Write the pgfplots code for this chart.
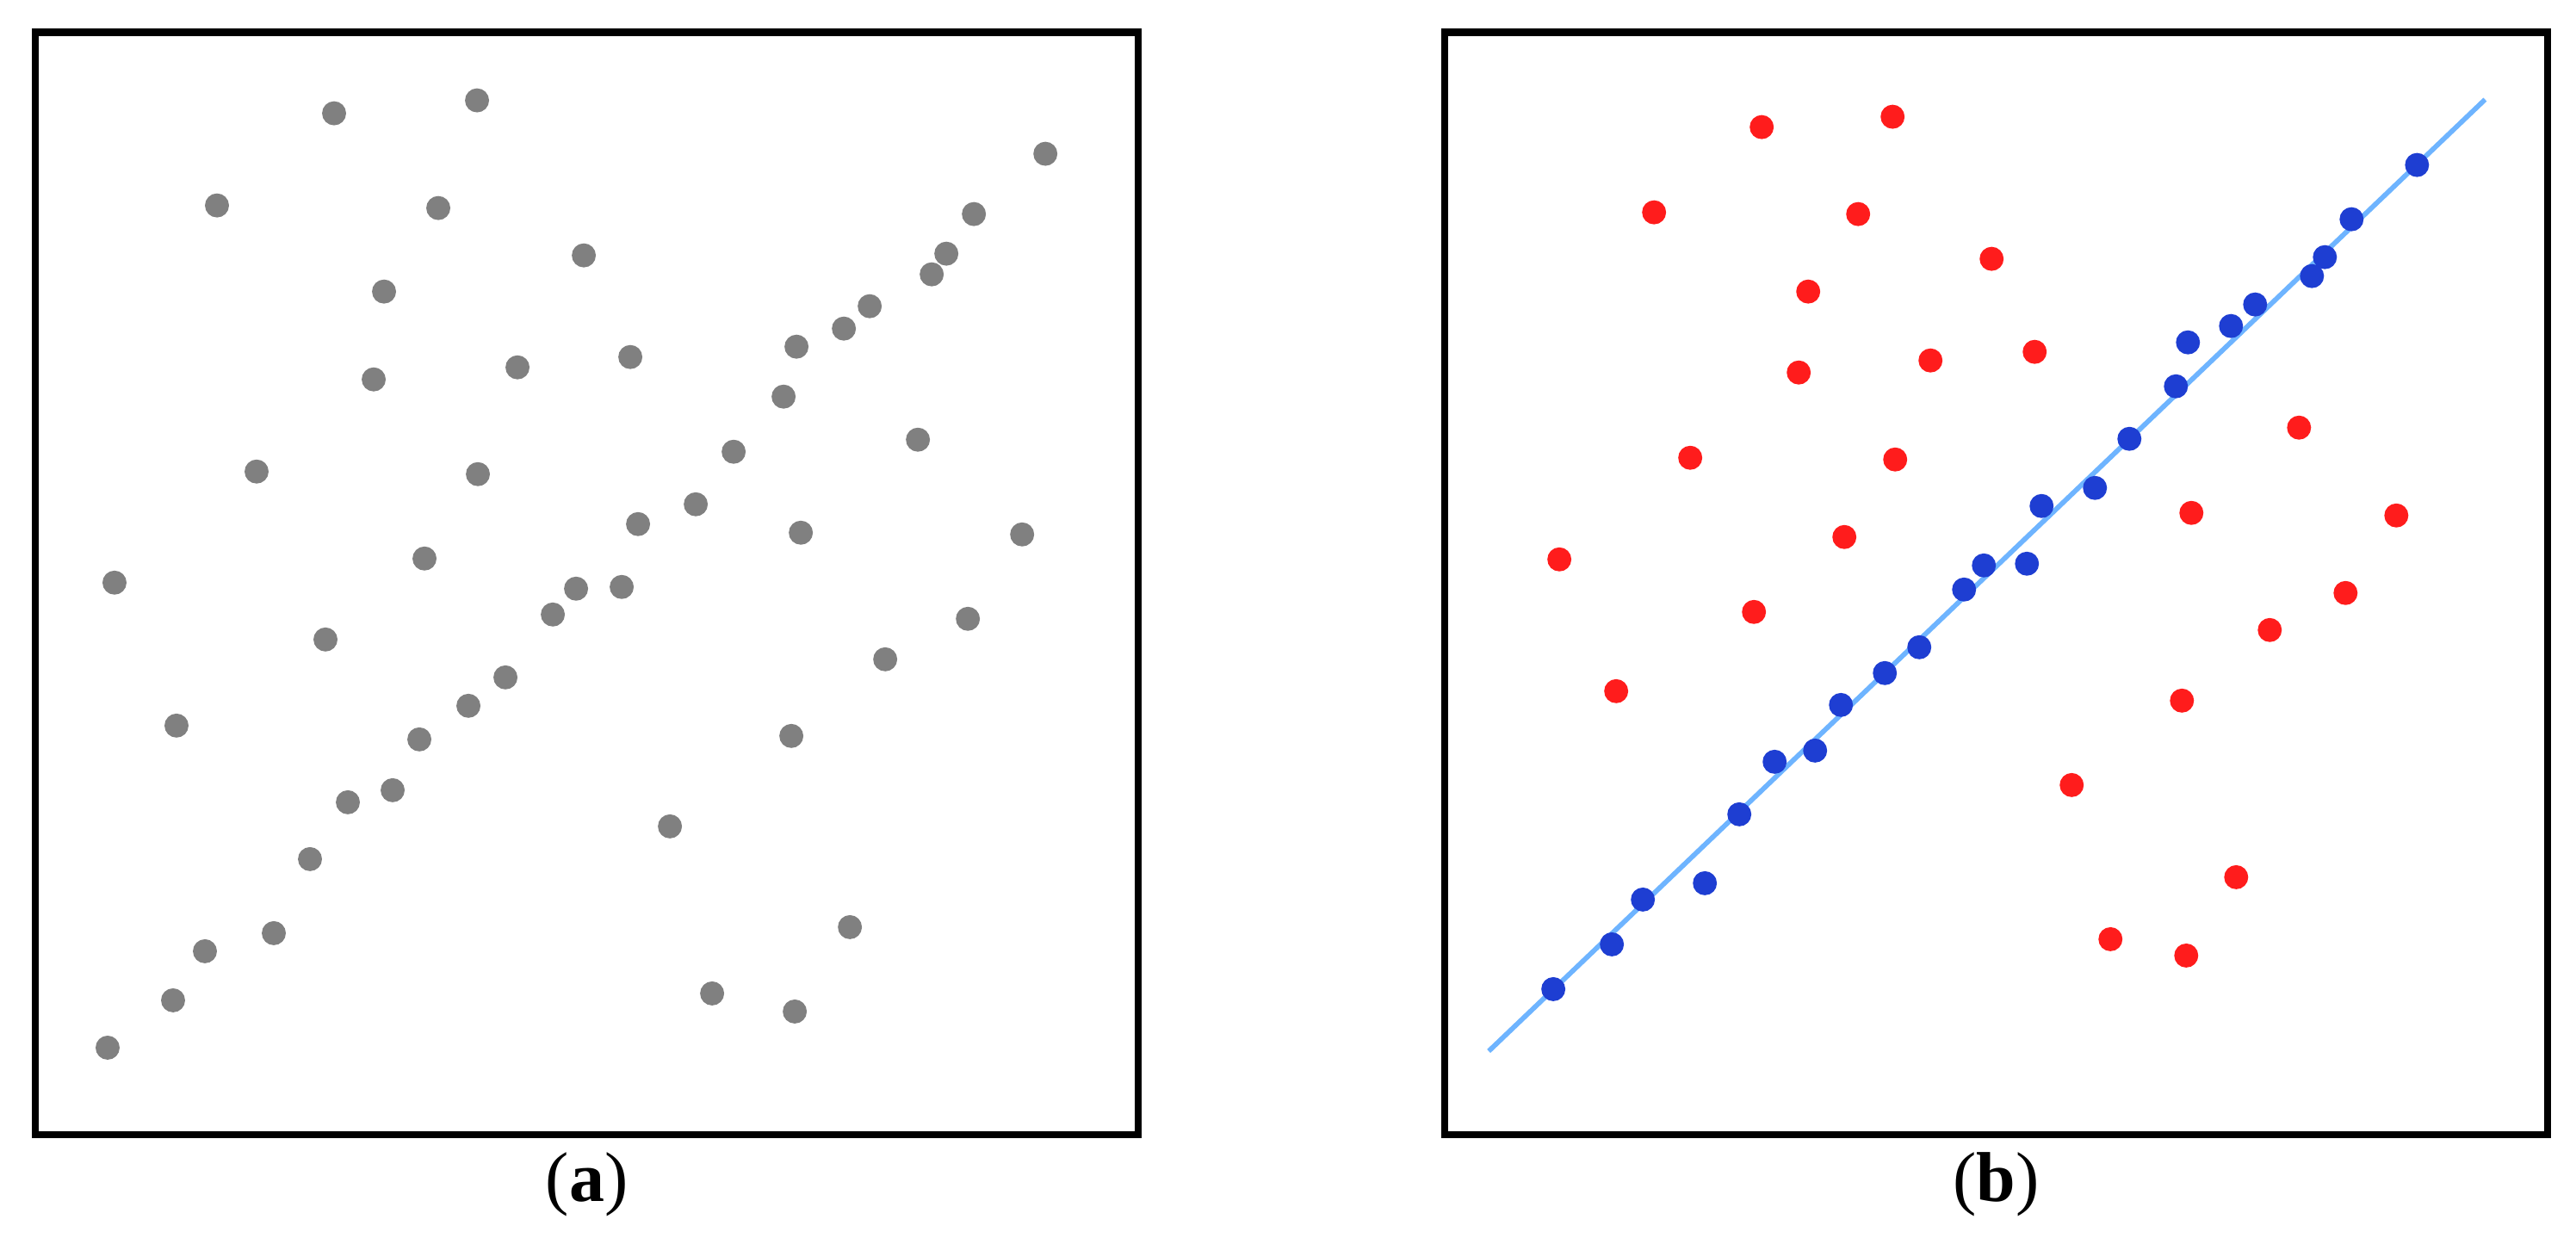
\documentclass[border=0pt]{standalone}
\usepackage{fontspec}
\setmainfont{Liberation Serif}
\usepackage{pgfplots}
\pgfplotsset{compat=1.18}

\definecolor{dotgray}{RGB}{128,128,128}
\definecolor{dotred}{RGB}{255,28,28}
\definecolor{dotblue}{RGB}{30,62,210}
\definecolor{fitblue}{RGB}{110,180,255}

% 1 reference pixel = 0.122pt
\pgfplotsset{
  panel/.style={
    scale only axis,
    width=156.3pt, height=156.2pt,
    xmin=0, xmax=1281, ymin=0, ymax=1280,
    xtick=\empty, ytick=\empty,
    axis line style={line width=1pt},
    anchor=south west,
    every axis x label/.style={at={(axis description cs:0.5,0)}, anchor=base, inner sep=0pt, yshift=-9.4pt},
  },
  dots/.style={color=#1, only marks, mark=*, mark size=1.5pt, mark options={draw=none, fill=#1}},
}

\begin{document}
\begin{tikzpicture}
\path (0pt,0pt) rectangle (365.0pt,175.3pt);

% (a) unlabelled points
\begin{axis}[panel, at={(5.0pt,14.52pt)}, xlabel={(\textbf{a})}]
\addplot[dots=dotgray] coordinates {
  (347,1186) (513,1201) (1173,1139) (211,1079) (468,1076) (1090,1069)
  (637,1021) (1058,1023) (1041,999) (405,979) (969,962) (939,936)
  (884,915) (691,903) (560,891) (393,877) (869,857) (1025,807)
  (811,793) (257,770) (514,767) (767,732) (700,709) (889,699)
  (1146,697) (452,669) (92,641) (628,634) (681,636) (601,604)
  (1083,599) (337,575) (987,552) (546,531) (503,498) (164,475)
  (446,459) (878,463) (415,400) (363,386) (737,358) (319,320)
  (946,241) (277,234) (197,213) (160,156) (786,164) (882,143) (84,101)
};
\end{axis}

% (b) inliers, outliers and fitted line
\begin{axis}[panel, at={(204.72pt,14.52pt)}, xlabel={(\textbf{b})}]
\addplot[fitblue, line width=0.7pt] coordinates {(51,97) (1208,1202)};
\addplot[dots=dotred] coordinates {
  (368,1170) (520,1182) (243,1071) (480,1069) (635,1017) (422,979)
  (411,885) (564,899) (685,909) (992,821) (285,786) (523,784)
  (867,722) (1105,719) (464,694) (133,668) (1046,629) (359,607)
  (958,586) (199,515) (856,504) (728,406) (919,299) (773,227) (861,208)
};
\addplot[dots=dotblue] coordinates {
  (1129,1126) (1053,1063) (1022,1019) (1007,997) (941,964) (913,939)
  (863,920) (849,869) (795,808) (755,751) (693,730) (626,661)
  (676,663) (603,633) (551,566) (511,536) (460,499) (430,446)
  (383,433) (342,372) (302,292) (230,273) (194,221) (126,169)
};
\end{axis}
\end{tikzpicture}
\end{document}
